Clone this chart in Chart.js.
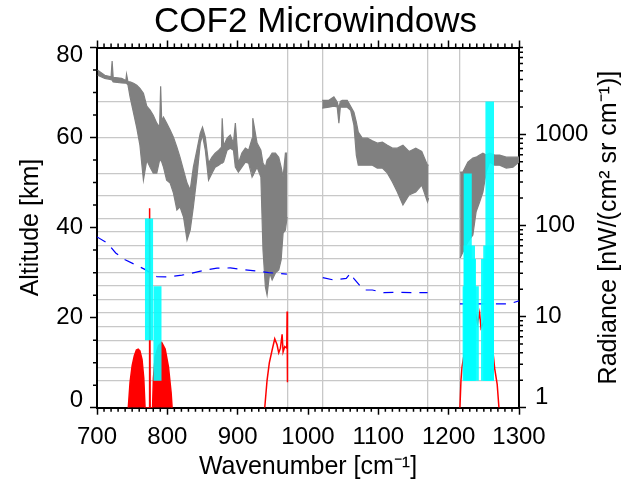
<!DOCTYPE html>
<html>
<head>
<meta charset="utf-8">
<script src="https://cdn.jsdelivr.net/npm/chart.js@4.4.1/dist/chart.umd.min.js"></script>
<style>
  html, body { margin: 0; padding: 0; background: #fff; }
  #wrap { width: 631px; height: 485px; }
</style>
</head>
<body>
<div id="wrap"><canvas id="myGraph"></canvas></div>
<script>
const FONT = "'Liberation Sans', Arial, sans-serif";

// axis ticks
const xTicks = [700, 800, 900, 1000, 1100, 1200, 1300];
const altTicks = [0, 20, 40, 60, 80];
const radTicks = [1, 10, 100, 1000];
// grid lines: retrieval levels (km) and spectrum segment edges (cm-1)
const altLevels = [6, 9, 12, 15, 18, 21, 24, 27, 30, 33, 36, 39, 42, 47, 52, 60, 68];
const segEdges = [970.5, 1020.5, 1170, 1216];

// measured spectrum (grey), upper / lower envelope, nW/(cm2 sr cm-1)
const wnA = [701, 711, 720, 721.5, 723, 735, 741, 742, 744, 747, 752, 756.6, 761, 766, 770.8, 775.5, 780, 785, 789, 790.5, 792, 794.5, 799, 804, 808.7, 813.6, 818, 823, 828, 832.5, 837, 842, 846.8, 850, 854, 858.6, 863.5, 868, 873, 877, 878, 880, 885, 889.5, 894, 896.7, 901, 906, 911, 915.6, 920.5, 921.5, 927.6, 933, 936, 939.4, 941.8, 945.5, 949, 953.7, 958.4, 961.8, 964.6, 967.9, 970.3];
const upA = [5060, 4460, 4300, 6400, 4240, 4130, 3900, 4575, 3800, 3770, 3645, 3465, 3210, 2830, 2040, 1845, 1625, 1330, 1200, 3380, 1400, 1545, 1330, 1115, 933, 725, 563, 405, 292, 245, 437, 672, 1033, 1200, 933, 484, 563, 623, 672, 725, 1507, 750, 910, 982, 802, 1330, 484, 623, 707, 672, 900, 1507, 802, 672, 484, 437, 522, 563, 623, 623, 563, 437, 340, 623, 623];
const loA = [4460, 4130, 4000, 3935, 3770, 3670, 3645, 3645, 3500, 2580, 1710, 1170, 762, 315, 522, 437, 376, 376, 522, 522, 500, 437, 315, 292, 227, 148, 160, 124, 69, 89, 160, 340, 802, 982, 672, 315, 376, 437, 460, 484, 484, 500, 672, 707, 672, 437, 386, 437, 497, 484, 340, 340, 437, 340, 54, 21.2, 17.3, 30.2, 25.3, 30.2, 32.5, 41.9, 82.7, 89, 124];

const wnB = [1020.2, 1029.6, 1036.8, 1041.5, 1043.9, 1046, 1048.7, 1055.8, 1060.6, 1065.3, 1068.7, 1071.5, 1077.2, 1084.4, 1091.5, 1098.6, 1105.8, 1112.9, 1120, 1127, 1135, 1143.7, 1153.2, 1161.7, 1169.9, 1171.5];
const upB = [2370, 2370, 2580, 2275, 1940, 2300, 2370, 2370, 2040, 1754, 1362, 1059, 910, 910, 850, 802, 822, 760, 707, 707, 760, 650, 707, 650, 460, 460];
const loB = [1940, 1990, 2040, 2004, 1330, 2000, 1990, 1990, 1845, 1262, 593, 460, 460, 460, 460, 427, 427, 376, 300, 233, 168, 216, 233, 278, 181, 200];

const wnC = [1216.3, 1220.2, 1227.3, 1234.4, 1239, 1244, 1248.7, 1253.4, 1258.2, 1265.4, 1272.5, 1281.9, 1291.4, 1300];
const upC = [386, 386, 497, 549, 563, 593, 623, 593, 623, 593, 593, 563, 563, 563];
const loC = [44, 51, 66, 78.7, 141, 181, 233, 386, 497, 460, 460, 427, 437, 497];

// COF2 signal (red)
const redWnA = [744.5, 747, 750, 753, 756, 758.5, 761, 764, 766.5, 768.3, 774, 774.8, 775.6, 779, 780.2, 782.7, 787.4, 792, 796.9, 801.6, 805.4, 806.8];
const redA = [1, 1.9, 2.9, 3.7, 4.3, 4.4, 4.2, 3.4, 2.1, 1, 1, 155, 1, 1, 2.1, 3.6, 4.8, 5.2, 4.4, 2.8, 1.46, 1];
const redWnB = [938.5, 941.8, 945, 949, 952.7, 956, 958.4, 960.8, 963.2, 964.6, 967, 969.8, 970.3, 970.8];
const redB = [1, 2.0, 3.1, 4.3, 5.7, 4.9, 4.0, 4.5, 6.4, 4.1, 4.7, 4.5, 11.4, 1.9];
const redWnC = [1216, 1217.5, 1219, 1224.8, 1232, 1238.6, 1241, 1244, 1246, 1253.4, 1260.5, 1265.4, 1269, 1271.5];
const redC = [1, 2.0, 2.8, 5.3, 8.8, 10.4, 8.5, 11, 7.5, 10, 6.3, 2.7, 1.8, 1];

// noise level (blue dashed)
const blueWnA = [700, 714.7, 726.6, 740, 755, 768, 785, 801.6, 820.7, 835, 854, 870.6, 889.5, 906, 925, 944, 970];
const blueA = [75, 64, 50, 42, 37, 33, 27.5, 27.3, 28.5, 30, 32.5, 34, 34.2, 33, 31.7, 30.4, 29.2];
const blueWnB = [1021, 1036.8, 1054.4, 1060.6, 1065, 1076, 1079.5, 1091.5, 1108, 1127, 1160, 1170];
const blueB = [26.8, 25.2, 26.3, 30, 26.3, 20.8, 19.6, 19.6, 18.3, 18.5, 18.3, 18.3];
const blueWnC = [1216, 1269.6, 1286, 1300];
const blueC = [13.8, 13.8, 13.8, 14.9];

// microwindows: wavenumber range and altitude range (km)
const mwLow = [768, 780, 1221, 1221, 1222, 1219.5, 1246, 1249, 1252];
const mwHigh = [780, 792, 1233, 1237.5, 1239, 1243, 1264.5, 1264.5, 1264.5];
const mwBottom = [15, 6, 6, 6, 6, 6, 6, 6, 6];
const mwTop = [42, 27, 52, 36, 33, 27, 33, 36, 68];

const radianceTitle = 'Radiance [nW/(cm\u00B2 sr cm\u207B\u00B9)]';

const pts = (xs, ys) => xs.map((x, i) => ({ x: x, y: ys[i] }));

const datasets = [];

mwLow.forEach((lo, i) => {
  datasets.push({
    data: [{ x: lo, y: mwTop[i] }, { x: mwHigh[i], y: mwTop[i] }],
    yAxisID: 'y',
    borderWidth: 0,
    backgroundColor: 'rgba(0, 255, 255, 0.9)',
    fill: { value: mwBottom[i] },
    order: 0,
  });
});

[[blueWnA, blueA], [blueWnB, blueB], [blueWnC, blueC]].forEach(([xs, ys]) => {
  datasets.push({
    data: pts(xs, ys),
    yAxisID: 'y1',
    borderColor: '#0000ff',
    borderWidth: 1.2,
    borderDash: [10, 8],
    fill: false,
    order: 1,
  });
});

datasets.push({
  data: pts(redWnA, redA),
  yAxisID: 'y1',
  borderColor: '#ff0000',
  borderWidth: 1.5,
  backgroundColor: '#ff0000',
  fill: 'start',
  order: 2,
});
[[redWnB, redB], [redWnC, redC]].forEach(([xs, ys]) => {
  datasets.push({
    data: pts(xs, ys),
    yAxisID: 'y1',
    borderColor: '#ff0000',
    borderWidth: 1.5,
    fill: false,
    order: 2,
  });
});

[[wnA, upA, loA], [wnB, upB, loB], [wnC, upC, loC]].forEach(([xs, up, lo]) => {
  datasets.push({
    data: pts(xs, up),
    yAxisID: 'y1',
    borderColor: '#808080',
    borderWidth: 1.2,
    backgroundColor: '#808080',
    fill: '+1',
    order: 3,
  });
  datasets.push({
    data: pts(xs, lo),
    yAxisID: 'y1',
    borderColor: '#808080',
    borderWidth: 1.2,
    fill: false,
    order: 3,
  });
});

const minorTicks = {
  id: 'minorTicks',
  afterDraw(chart) {
    const { ctx, chartArea: a } = chart;
    const { x, y, y1 } = chart.scales;
    ctx.save();
    ctx.strokeStyle = '#000';
    ctx.lineWidth = 1.5;
    ctx.beginPath();
    for (let v = 710; v < 1300; v += 10) {
      if (v % 100 === 0) continue;
      const px = x.getPixelForValue(v);
      ctx.moveTo(px, a.bottom); ctx.lineTo(px, a.bottom + 4);
      ctx.moveTo(px, a.top); ctx.lineTo(px, a.top - 4);
    }
    for (let v = 5; v < 80; v += 5) {
      if (v % 20 === 0) continue;
      const py = y.getPixelForValue(v);
      ctx.moveTo(a.left, py); ctx.lineTo(a.left - 4, py);
    }
    for (let k = 1; k <= 1000; k *= 10) {
      for (let d = 2; d <= 9; d++) {
        const py = y1.getPixelForValue(d * k);
        ctx.moveTo(a.right, py); ctx.lineTo(a.right + 4, py);
      }
    }
    ctx.stroke();
    // right title reads bottom to top, like the left one
    ctx.fillStyle = '#000';
    ctx.font = '25px ' + FONT;
    ctx.textAlign = 'center';
    ctx.textBaseline = 'middle';
    ctx.translate(609, (a.top + a.bottom) / 2);
    ctx.rotate(-Math.PI / 2);
    ctx.fillText(radianceTitle, 0, 0);
    ctx.restore();
  }
};

const axisLine = { color: '#000', width: 2 };
const tickGrid = { drawOnChartArea: false, tickLength: 7, tickColor: '#000', tickWidth: 1.5 };

new Chart(document.getElementById('myGraph'), {
  type: 'line',
  data: { datasets: datasets },
  options: {
    responsive: true,
    maintainAspectRatio: false,
    animation: false,
    events: [],
    elements: { point: { radius: 0 }, line: { tension: 0 } },
    plugins: {
      legend: { display: false },
      tooltip: { enabled: false },
      title: {
        display: true,
        text: 'COF2 Microwindows',
        color: '#000',
        font: { family: FONT, size: 35, weight: 'normal', lineHeight: 1 },
        padding: { top: 5, bottom: 0 },
      },
    },
    scales: {
      x: {
        type: 'linear', position: 'bottom', min: 700, max: 1300,
        afterBuildTicks: s => { s.ticks = xTicks.map(v => ({ value: v })); },
        afterFit: s => { s.height = 77.3; },
        ticks: {
          font: { family: FONT, size: 24, lineHeight: 1 }, color: '#000', padding: 11,
          autoSkip: false, maxRotation: 0, callback: v => String(v),
        },
        grid: tickGrid,
        border: axisLine,
        title: { display: true, text: 'Wavenumber [cm\u207B\u00B9]', color: '#000', font: { family: FONT, size: 25, lineHeight: 1.2 }, padding: { top: 0, bottom: 3 } },
      },
      xTop: {
        type: 'linear', position: 'top', min: 700, max: 1300,
        afterBuildTicks: s => { s.ticks = xTicks.map(v => ({ value: v })); },
        afterFit: s => { s.height = 7.5; },
        ticks: { display: false },
        grid: tickGrid,
        border: axisLine,
      },
      xGrid: {
        type: 'linear', position: 'top', min: 700, max: 1300,
        afterBuildTicks: s => { s.ticks = segEdges.map(v => ({ value: v })); },
        afterFit: s => { s.height = 0; },
        ticks: { display: false },
        grid: { color: '#c8c8c8', lineWidth: 1.3, drawTicks: false },
        border: { display: false },
      },
      y: {
        type: 'linear', position: 'left', min: 0, max: 80,
        afterBuildTicks: s => { s.ticks = altTicks.map(v => ({ value: v })); },
        afterFit: s => { s.width = 97; },
        ticks: {
          font: { family: FONT, size: 24, lineHeight: 0.65 }, color: '#000', padding: 7,
          callback: v => v === 0 ? ['0', ''] : v === 80 ? ['', '80'] : String(v),
        },
        grid: tickGrid,
        border: axisLine,
        title: { display: true, text: 'Altitude [km]', color: '#000', font: { family: FONT, size: 25, lineHeight: 1.2 }, padding: { top: 16, bottom: 0 } },
      },
      yGrid: {
        type: 'linear', position: 'left', min: 0, max: 80,
        afterBuildTicks: s => { s.ticks = altLevels.map(v => ({ value: v })); },
        afterFit: s => { s.width = 0; },
        ticks: { display: false },
        grid: { color: '#c8c8c8', lineWidth: 1.3, drawTicks: false },
        border: { display: false },
      },
      y1: {
        type: 'logarithmic', position: 'right', min: 1, max: 9000,
        afterBuildTicks: s => { s.ticks = radTicks.map(v => ({ value: v })); },
        afterFit: s => { s.width = 112; },
        ticks: {
          font: { family: FONT, size: 24, lineHeight: 0.85 }, color: '#000', padding: 9,
          callback: v => v === 1 ? ['1', ''] : String(v),
        },
        grid: tickGrid,
        border: axisLine,
      },
    },
  },
  plugins: [minorTicks],
});
</script>
</body>
</html>
